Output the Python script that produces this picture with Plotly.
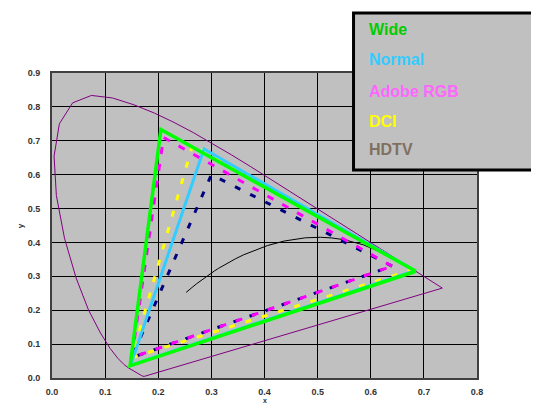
import plotly.graph_objects as go

# CIE 1931 spectral locus (x, y), closed by the purple line
locus_x = [0.1741, 0.1733, 0.1726, 0.1714, 0.1689, 0.1669, 0.1644, 0.1611, 0.1566, 0.1510,
           0.1440, 0.1355, 0.1241, 0.1096, 0.0913, 0.0687, 0.0454, 0.0235, 0.0082, 0.0039,
           0.0139, 0.0389, 0.0743, 0.1142, 0.1547, 0.1929, 0.2296, 0.2658, 0.3016, 0.3373,
           0.3731, 0.4087, 0.4441, 0.4788, 0.5125, 0.5448, 0.5752, 0.6029, 0.6270, 0.6482,
           0.6658, 0.6915, 0.7079, 0.7190, 0.7260, 0.7300, 0.7334, 0.7347, 0.1741]
locus_y = [0.0050, 0.0048, 0.0048, 0.0051, 0.0069, 0.0086, 0.0109, 0.0138, 0.0177, 0.0227,
           0.0297, 0.0399, 0.0578, 0.0868, 0.1327, 0.2007, 0.2950, 0.4127, 0.5384, 0.6548,
           0.7502, 0.8120, 0.8338, 0.8262, 0.8059, 0.7816, 0.7543, 0.7243, 0.6923, 0.6589,
           0.6245, 0.5896, 0.5547, 0.5202, 0.4866, 0.4544, 0.4242, 0.3965, 0.3725, 0.3514,
           0.3340, 0.3083, 0.2920, 0.2809, 0.2740, 0.2700, 0.2666, 0.2653, 0.0050]

# Planckian (black body) locus
planck_x = [0.6528, 0.6251, 0.5857, 0.5498, 0.5267, 0.5056, 0.4770, 0.4513, 0.4369, 0.4053,
            0.3805, 0.3608, 0.3451, 0.3324, 0.3221, 0.3135, 0.3064, 0.2952, 0.2869, 0.2807,
            0.2719, 0.2637, 0.2565, 0.2525]
planck_y = [0.3444, 0.3674, 0.3931, 0.4081, 0.4133, 0.4152, 0.4137, 0.4089, 0.4041, 0.3907,
            0.3768, 0.3636, 0.3516, 0.3410, 0.3318, 0.3236, 0.3166, 0.3048, 0.2956, 0.2884,
            0.2778, 0.2673, 0.2577, 0.2525]

# Gamut triangles (R, G, B, R)
hdtv_x = [0.640, 0.300, 0.150, 0.640]
hdtv_y = [0.330, 0.600, 0.060, 0.330]
dci_x = [0.680, 0.265, 0.150, 0.680]
dci_y = [0.320, 0.690, 0.060, 0.320]
adobe_x = [0.640, 0.210, 0.150, 0.640]
adobe_y = [0.330, 0.710, 0.060, 0.330]
normal_x = [0.683, 0.286, 0.148, 0.683]
normal_y = [0.317, 0.676, 0.038, 0.317]
wide_x = [0.685, 0.205, 0.147, 0.685]
wide_y = [0.315, 0.733, 0.036, 0.315]

legend_names = ["Wide", "Normal", "Adobe RGB", "DCI", "HDTV"]
legend_colors = ["#00CC00", "#33CCFF", "#FF66FF", "#FFFF00", "#807060"]

x_ticks = [0.0, 0.1, 0.2, 0.3, 0.4, 0.5, 0.6, 0.7, 0.8]
y_ticks = [0.0, 0.1, 0.2, 0.3, 0.4, 0.5, 0.6, 0.7, 0.8, 0.9]

FONT = "Liberation Sans, Arial, sans-serif"

fig = go.Figure()
fig.add_trace(go.Scatter(x=locus_x, y=locus_y, mode="lines",
                         line=dict(color="#800080", width=1), hoverinfo="skip"))
fig.add_trace(go.Scatter(x=planck_x, y=planck_y, mode="lines",
                         line=dict(color="#000000", width=1), hoverinfo="skip"))
fig.add_trace(go.Scatter(x=hdtv_x, y=hdtv_y, mode="lines",
                         line=dict(color="#000080", width=3, dash="6px,11px")))
fig.add_trace(go.Scatter(x=dci_x, y=dci_y, mode="lines",
                         line=dict(color="#FFFF00", width=3, dash="6px,11px")))
fig.add_trace(go.Scatter(x=adobe_x, y=adobe_y, mode="lines",
                         line=dict(color="#FF00FF", width=3, dash="7px,10px")))
fig.add_trace(go.Scatter(x=normal_x, y=normal_y, mode="lines",
                         line=dict(color="#33CCFF", width=3)))
fig.add_trace(go.Scatter(x=wide_x, y=wide_y, mode="lines",
                         line=dict(color="#00FF00", width=3.5)))

# Legend box
fig.add_shape(type="rect", xref="paper", yref="paper",
              x0=0.7095, x1=1.25, y0=0.682, y1=1.197,
              fillcolor="#C0C0C0", line=dict(color="#000000", width=3), layer="above")

legend_y = [1.141, 1.043, 0.939, 0.841, 0.748]
for name, col, yy in zip(legend_names, legend_colors, legend_y):
    fig.add_annotation(text="<b>" + name + "</b>", xref="paper", yref="paper",
                       x=0.742, y=yy, xanchor="left", yanchor="middle", showarrow=False,
                       font=dict(family=FONT, size=16, color=col))

# Axis titles
fig.add_annotation(text="<b>x</b>", xref="paper", yref="paper", x=0.5, y=0,
                   yshift=-18, yanchor="top", showarrow=False, borderpad=0,
                   font=dict(family=FONT, size=7, color="#333333"))
fig.add_annotation(text="<b>y</b>", xref="paper", yref="paper", x=-0.089, y=0.5,
                   textangle=-90, showarrow=False,
                   font=dict(family=FONT, size=8, color="#333333"))

fig.update_xaxes(range=[0, 0.8], tickvals=x_ticks, ticktext=[f"{v:.1f}" for v in x_ticks],
                 showgrid=True, gridcolor="#000000", gridwidth=1,
                 showline=True, linecolor="#404040", linewidth=2, mirror=True,
                 zeroline=False, ticks="", ticklabelstandoff=4,
                 tickfont=dict(family=FONT, size=9, color="#333333", weight="bold"))
fig.update_yaxes(range=[0, 0.9], tickvals=y_ticks, ticktext=[f"{v:.1f}" for v in y_ticks],
                 showgrid=True, gridcolor="#000000", gridwidth=1,
                 showline=True, linecolor="#404040", linewidth=2, mirror=True,
                 zeroline=False, ticks="", ticklabelstandoff=8,
                 tickfont=dict(family=FONT, size=9, color="#333333", weight="bold"))

# margins compensate for the 8px page margin of the html body
fig.update_layout(width=539, height=405,
                  margin=dict(l=44, r=70, t=65, b=35),
                  paper_bgcolor="#FFFFFF", plot_bgcolor="#C0C0C0",
                  showlegend=False)

fig.write_html("out.html")
